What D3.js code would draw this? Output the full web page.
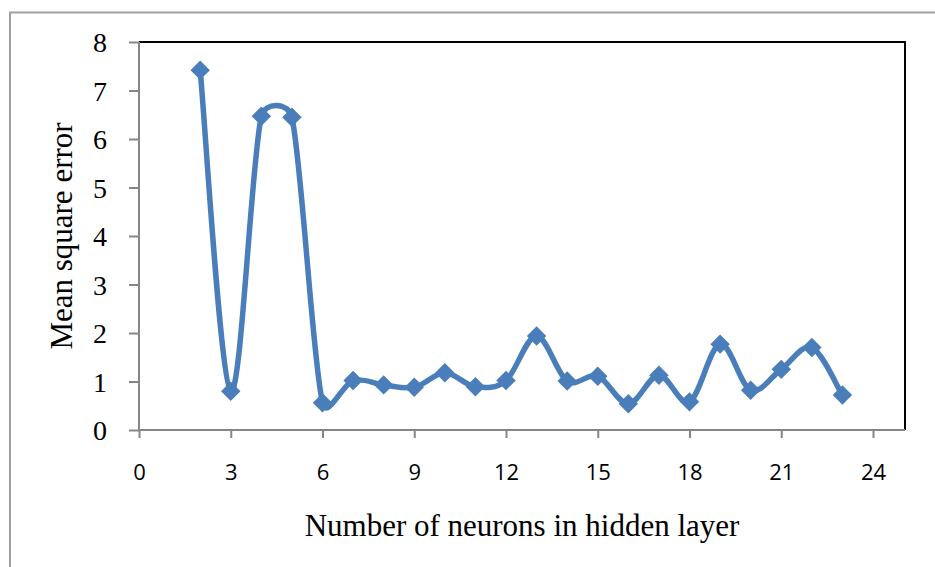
<!DOCTYPE html>
<html>
<head>
<meta charset="utf-8">
<script src="https://cdn.jsdelivr.net/npm/d3@7"></script>
<style>
  html, body { margin: 0; padding: 0; background: #fff; }
  svg { display: block; }
</style>
</head>
<body>
<svg id="chart" width="935" height="567"></svg>
<script>
// Mean square error against hidden-layer size
const neurons = [2, 3, 4, 5, 6, 7, 8, 9, 10, 11, 12, 13, 14, 15, 16, 17, 18, 19, 20, 21, 22, 23];
const mse = [7.42, 0.80, 6.47, 6.45, 0.56, 1.02, 0.93, 0.88, 1.18, 0.89, 1.02,
             1.94, 1.01, 1.11, 0.54, 1.13, 0.58, 1.77, 0.82, 1.25, 1.70, 0.72];
const xTicks = [0, 3, 6, 9, 12, 15, 18, 21, 24];
const yTicks = [0, 1, 2, 3, 4, 5, 6, 7, 8];
const xTitle = "Number of neurons in hidden layer";
const yTitle = "Mean square error";

const W = 935, H = 567;
const plot = { left: 139, top: 42, right: 905, bottom: 430 };
const lineColor = "#4a7ebb";
const axisColor = "#868686";
const serif = "'Liberation Serif', 'Times New Roman', serif";
const sans = "'Open Sans', 'Noto Sans', sans-serif";

const svg = d3.select("#chart");

// Bezier smoothing in the style of spreadsheet "smoothed line" charts:
// Catmull-Rom style control points, with each handle limited to half its segment.
function SmoothCurve(context) { this._context = context; }
SmoothCurve.prototype = {
  areaStart() {}, areaEnd() {},
  lineStart() { this._p = []; },
  point(x, y) { this._p.push([+x, +y]); },
  lineEnd() {
    const p = this._p, c = this._context, n = p.length;
    if (!n) return;
    const dist = (a, b) => Math.hypot(b[0] - a[0], b[1] - a[1]);
    c.moveTo(p[0][0], p[0][1]);
    for (let i = 0; i < n - 1; i++) {
      const p0 = p[Math.max(i - 1, 0)], p1 = p[i], p2 = p[i + 1], p3 = p[Math.min(i + 2, n - 1)];
      const d12 = dist(p1, p2), d02 = dist(p0, p2), d13 = dist(p1, p3);
      const f1 = d02 > 0 ? Math.min(1 / 6, 0.5 * d12 / d02) : 0;
      const f2 = d13 > 0 ? Math.min(1 / 6, 0.5 * d12 / d13) : 0;
      c.bezierCurveTo(
        p1[0] + (p2[0] - p0[0]) * f1, p1[1] + (p2[1] - p0[1]) * f1,
        p2[0] - (p3[0] - p1[0]) * f2, p2[1] - (p3[1] - p1[1]) * f2,
        p2[0], p2[1]);
    }
  }
};
const curveSmooth = ctx => new SmoothCurve(ctx);

// Chart area frame (extends past the window on right and bottom)
svg.append("rect")
  .attr("x", 10).attr("y", 12.5)
  .attr("width", W + 20).attr("height", H + 20)
  .attr("fill", "#fff").attr("stroke", "#a0a0a0").attr("stroke-width", 2);

const x = d3.scaleLinear().domain([0, 24]).range([plot.left, 873]);
const y = d3.scaleLinear().domain([0, 8]).range([plot.bottom, plot.top]);

// Plot area border: black on top and right
svg.append("path")
  .attr("d", `M${plot.left},${plot.top}H${plot.right}V${plot.bottom}`)
  .attr("fill", "none").attr("stroke", "#000").attr("stroke-width", 2);

// Y axis
const yAxis = svg.append("g")
  .attr("transform", `translate(${plot.left},0)`)
  .call(d3.axisLeft(y).tickValues(yTicks).tickSize(10).tickPadding(22).tickFormat(d3.format("d")));
yAxis.select(".domain").remove();
yAxis.selectAll(".tick line").attr("stroke", axisColor).attr("stroke-width", 2);
yAxis.selectAll(".tick text")
  .attr("fill", "#000")
  .attr("dy", "0.34em")
  .style("font-family", serif)
  .style("font-size", "28px");
svg.append("line")
  .attr("x1", plot.left).attr("x2", plot.left)
  .attr("y1", plot.top).attr("y2", plot.bottom + 1)
  .attr("stroke", axisColor).attr("stroke-width", 2);

// X axis
const xAxis = svg.append("g")
  .attr("transform", `translate(0,${plot.bottom})`)
  .call(d3.axisBottom(x).tickValues(xTicks).tickSize(8).tickPadding(26).tickFormat(d3.format("d")));
xAxis.select(".domain").remove();
xAxis.selectAll(".tick line").attr("stroke", axisColor).attr("stroke-width", 2);
xAxis.selectAll(".tick text")
  .attr("fill", "#000")
  .style("font-family", sans)
  .style("font-size", "22px");
svg.append("line")
  .attr("x1", plot.left - 1).attr("x2", plot.right)
  .attr("y1", plot.bottom).attr("y2", plot.bottom)
  .attr("stroke", axisColor).attr("stroke-width", 2);

// Series line
const pts = neurons.map((n, i) => ({ n, v: mse[i] }));
const line = d3.line().x(d => x(d.n)).y(d => y(d.v)).curve(curveSmooth);
svg.append("path")
  .datum(pts)
  .attr("d", line)
  .attr("fill", "none")
  .attr("stroke", lineColor)
  .attr("stroke-width", 5.5)
  .attr("stroke-linejoin", "round")
  .attr("stroke-linecap", "round");

// Diamond markers
const diamond = d3.symbol().type(d3.symbolSquare).size(150);
svg.append("g").selectAll("path")
  .data(pts)
  .join("path")
  .attr("d", diamond)
  .attr("transform", d => `translate(${x(d.n)},${y(d.v)}) rotate(45)`)
  .attr("fill", lineColor)
  .attr("stroke", lineColor)
  .attr("stroke-width", 1.5);

// Axis titles
svg.append("text")
  .attr("x", (plot.left + plot.right) / 2)
  .attr("y", 536)
  .attr("text-anchor", "middle")
  .style("font-family", serif)
  .style("font-size", "31px")
  .text(xTitle);

svg.append("text")
  .attr("transform", `translate(72,${(plot.top + plot.bottom) / 2}) rotate(-90)`)
  .attr("text-anchor", "middle")
  .style("font-family", serif)
  .style("font-size", "31px")
  .text(yTitle);
</script>
</body>
</html>
